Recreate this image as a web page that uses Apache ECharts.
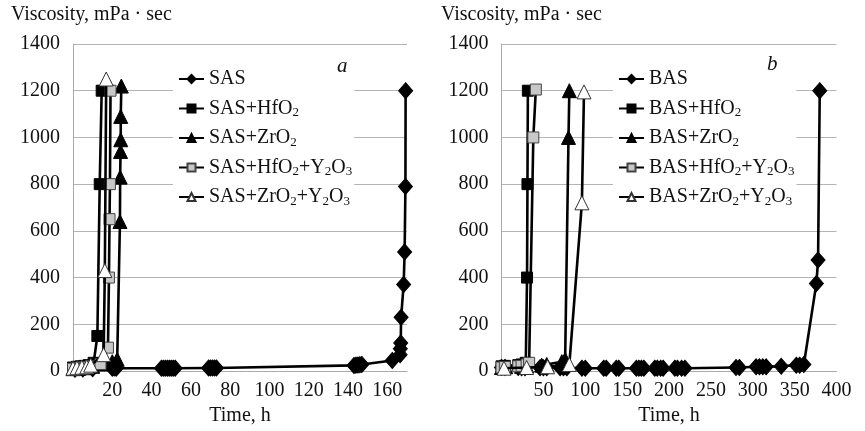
<!DOCTYPE html>
<html><head><meta charset="utf-8">
<script src="https://cdn.jsdelivr.net/npm/echarts@6/dist/echarts.min.js"></script>
<style>html,body{margin:0;padding:0;background:#fff}#c{width:865px;height:431px}</style>
</head><body><div id="c"></div>
<script>
// ---- Data ----
const yTicks = [0, 200, 400, 600, 800, 1000, 1200, 1400];
const xTicksA = [20, 40, 60, 80, 100, 120, 140, 160];
const xTicksB = [50, 100, 150, 200, 250, 300, 350, 400];
const namesA = ['SAS', 'SAS+HfO2', 'SAS+ZrO2', 'SAS+HfO2+Y2O3', 'SAS+ZrO2+Y2O3'];
const namesB = ['BAS', 'BAS+HfO2', 'BAS+ZrO2', 'BAS+HfO2+Y2O3', 'BAS+ZrO2+Y2O3'];

// panel a
const sas = [[1,8],[5,9],[10,10],[20,12],[21,13],[22,12],[45,12],[46,12],[47,12],[48,12],[49,12],[50,12],[51,12],[52,12],
  [69,13],[70,13],[71,13],[72,13],[73,13],[143,24],[144,25],[145,26],[146,27],[147,28],[162.5,45],[166.5,70],[166.6,95],
  [166.8,120],[167,230],[168.3,370],[168.8,510],[169.2,790],[169.3,1200]];
const sasHf = [[0,15],[2,18],[4,20],[6,22],[8,25],[10.5,35],[12.4,150],[13.6,800],[14.6,1200]];
const sasZr = [[0,10],[3,12],[6,14],[10,20],[15,30],[20,40],[22.5,50],[23.9,640],[24,830],[24.2,940],[24.3,990],[24.3,1090],[24.6,1220]];
const sasHfY = [[0,10],[2,12],[4,14],[6,16],[9,20],[14,30],[17.8,100],[18.3,400],[18.6,650],[18.8,800],[19.1,1200]];
const sasZrY = [[0,12],[2,14],[4.5,16],[7,18],[9,25],[15.6,70],[16.2,430],[16.9,1250]];

// panel b
const bas = [[0,15],[4,15],[20,15],[24,14],[28,14],[46,14],[50,14],[54,14],[70,14],[74,14],[78,14],[96,12],[100,12],
  [122,12],[125,12],[137,12],[140,12],[161,12],[164,12],[167,12],[170,12],[183,12],[186,12],[190,12],[193,12],
  [207,12],[210,12],[215,12],[219,12],[280,15],[284,15],[304,18],[308,18],[312,18],[316,18],[334,20],[352,25],[356,25],
  [361,28],[376,375],[378,475],[380,1200]];
const basHf = [[0,20],[4,22],[20,25],[24,28],[29,35],[30.5,400],[31,800],[31.5,1200]];
const basZr = [[0,15],[5,18],[24,20],[30,22],[48,25],[54,28],[72,40],[76,50],[80,1000],[81,1200]];
const basHfY = [[0,15],[4,17],[20,20],[24,22],[30,28],[33,35],[38,1000],[41,1205]];
const basZrY = [[3,12],[30,15],[55,18],[81,28],[96,720],[98.5,1195]];

const dataA = [sas, sasHf, sasZr, sasHfY, sasZrY];
const dataB = [bas, basHf, basZr, basHfY, basZrY];

// ---- Styles ----
const FONT = '"Liberation Serif", "Times New Roman", serif';
const marks = [
  {symbol: 'diamond', size: [14, 16], color: '#000', border: '#000'},
  {symbol: 'rect', size: 11, color: '#000', border: '#000'},
  {symbol: 'triangle', size: 14, color: '#000', border: '#000'},
  {symbol: 'rect', size: 11, color: '#c8c8c8', border: '#444'},
  {symbol: 'triangle', size: 14, color: '#fff', border: '#333'}
];

function mkSeries(names, datas, idx) {
  return names.map((n, i) => ({
    name: n, type: 'line', xAxisIndex: idx, yAxisIndex: idx,
    data: datas[i], symbol: marks[i].symbol, symbolSize: marks[i].size,
    showAllSymbol: true, clip: false,
    lineStyle: {color: '#000', width: 2.6},
    itemStyle: {color: marks[i].color, borderColor: marks[i].border, borderWidth: 1},
    z: 2 + i
  }));
}

function xAxis(idx, max, interval, ticks) {
  return {
    type: 'value', gridIndex: idx, min: 0, max: max, interval: interval,
    axisLine: {show: true, lineStyle: {color: '#aaa', width: 1}},
    axisTick: {show: false}, splitLine: {show: false},
    axisLabel: {fontFamily: FONT, fontSize: 20, color: '#111', margin: 10, showMaxLabel: true,
      formatter: v => ticks.indexOf(v) >= 0 ? String(v) : ''},
    name: 'Time, h', nameLocation: 'middle', nameGap: 31,
    nameTextStyle: {fontFamily: FONT, fontSize: 20, color: '#111'}
  };
}
function yAxis(idx) {
  return {
    type: 'value', gridIndex: idx, min: yTicks[0], max: yTicks[yTicks.length - 1], interval: yTicks[1] - yTicks[0],
    axisLine: {show: true, lineStyle: {color: '#aaa', width: 1}},
    axisTick: {show: false},
    splitLine: {show: true, lineStyle: {color: '#b4b4b4', width: 1}},
    axisLabel: {fontFamily: FONT, fontSize: 20, color: '#111', margin: 13,
      formatter: v => yTicks.indexOf(v) >= 0 ? String(v) : ''}
  };
}
function legend(idx, names, left) {
  return {
    orient: 'vertical', left: left, top: 60, data: names, z: 10,
    backgroundColor: '#fff', padding: [8, 2, 8, 5],
    itemWidth: 25, itemHeight: 10, itemGap: 7.5,
    selectedMode: false,
    textStyle: {fontFamily: FONT, fontSize: 20, color: '#111', lineHeight: 22,
      rich: {s: {fontFamily: FONT, fontSize: 13, color: '#111', lineHeight: 13, verticalAlign: 'bottom'}}},
    formatter: n => n.replace(/(\d)/g, '{s|$1}')
  };
}

const chart = echarts.init(document.getElementById('c'), null, {renderer: 'canvas'});
chart.setOption({
  animation: false,
  backgroundColor: '#fff',
  grid: [
    {left: 73, top: 44, width: 334, height: 327, containLabel: false},
    {left: 501.5, top: 44, width: 335, height: 327, containLabel: false}
  ],
  xAxis: [xAxis(0, 170, 20, xTicksA), xAxis(1, 400, 50, xTicksB)],
  yAxis: [yAxis(0), yAxis(1)],
  legend: [legend(0, namesA, 173), legend(1, namesB, 613)],
  graphic: [
    {type: 'text', left: 11, top: 5, z: 100, style: {text: 'Viscosity, mPa · sec', font: '20px ' + FONT, fill: '#111'}},
    {type: 'text', left: 441, top: 5, z: 100, style: {text: 'Viscosity, mPa · sec', font: '20px ' + FONT, fill: '#111'}},
    {type: 'text', left: 337, top: 56, z: 100, style: {text: 'a', font: 'italic 21px ' + FONT, fill: '#111'}},
    {type: 'text', left: 767, top: 54, z: 100, style: {text: 'b', font: 'italic 21px ' + FONT, fill: '#111'}}
  ],
  series: mkSeries(namesA, dataA, 0).concat(mkSeries(namesB, dataB, 1))
});
</script></body></html>
